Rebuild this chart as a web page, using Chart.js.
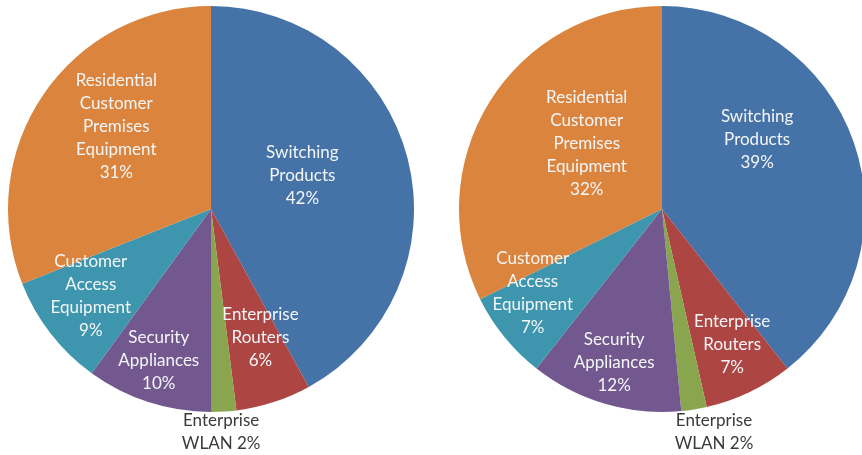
<!DOCTYPE html>
<html>
<head>
<meta charset="utf-8">
<script src="https://cdn.jsdelivr.net/npm/chart.js@4.4.1/dist/chart.umd.min.js"></script>
<style>
  html, body { margin: 0; padding: 0; background: #ffffff; }
  body { width: 862px; height: 455px; overflow: hidden; position: relative; }
  .pie { position: absolute; top: 6px; width: 406px; height: 449px; }
  #leftBox { left: 8px; }
  #rightBox { left: 459px; }
</style>
</head>
<body>
<div id="leftBox" class="pie"><canvas id="leftChart"></canvas></div>
<div id="rightBox" class="pie"><canvas id="rightChart"></canvas></div>

<script>
// segment names, clockwise from 12 o'clock
const segments = [
    ['Switching', 'Products'],
    ['Enterprise', 'Routers'],
    ['Enterprise', 'WLAN'],
    ['Security', 'Appliances'],
    ['Customer', 'Access', 'Equipment'],
    ['Residential', 'Customer', 'Premises', 'Equipment']
];

// market share, percent
const sharesLeft = [42, 6, 2, 10, 9, 31];
const sharesRight = [39, 7, 2, 12, 7, 32];

const sliceColors = ['#4572A7', '#AD4542', '#89A54E', '#72588F', '#3D96AE', '#DB843D'];

// label placement: [radius fraction, angle shift in degrees] per slice
const placeLeft = [[0.48, -6], [0.68, -3], [1.10, 1], [0.79, 1], [0.73, 2], [0.62, 7]];
const placeRight = [[0.58, -17], [0.75, -2], [1.13, -4], [0.79, 1], [0.76, 6], [0.49, 9]];

const LINE_H = 23;

// draws the multi-line labels (name + value) for every slice
const sliceLabels = {
    id: 'sliceLabels',
    afterDraw(chart, args, opts) {
        const ctx = chart.ctx;
        const meta = chart.getDatasetMeta(0);
        const values = chart.data.datasets[0].data;
        ctx.save();
        ctx.font = '17px Lato, "Open Sans", sans-serif';
        ctx.textAlign = 'center';
        ctx.textBaseline = 'middle';
        meta.data.forEach((arc, i) => {
            const p = arc.getProps(['x', 'y', 'startAngle', 'endAngle', 'outerRadius'], true);
            const [rf, shift] = opts.place[i];
            const mid = (p.startAngle + p.endAngle) / 2 + shift * Math.PI / 180;
            const cx = p.x + Math.cos(mid) * p.outerRadius * rf;
            const cy = p.y + Math.sin(mid) * p.outerRadius * rf;
            let lines = segments[i].slice();
            const pct = values[i] + '%';
            const outside = rf > 1;
            if (outside) {
                lines[lines.length - 1] += ' ' + pct;
            } else {
                lines.push(pct);
            }
            ctx.fillStyle = outside ? '#3a3a3a' : '#f4f6f8';
            const top = cy - (lines.length - 1) * LINE_H / 2;
            lines.forEach((t, k) => ctx.fillText(t, cx, top + k * LINE_H));
        });
        ctx.restore();
    }
};

function makePie(id, shares, place) {
    const ctx = document.getElementById(id).getContext('2d');
    return new Chart(ctx, {
        type: 'pie',
        data: {
            labels: segments.map(s => s.join(' ')),
            datasets: [{
                data: shares,
                backgroundColor: sliceColors,
                borderWidth: 0
            }]
        },
        options: {
            responsive: true,
            maintainAspectRatio: false,
            animation: false,
            layout: { padding: { bottom: 43 } },
            plugins: {
                legend: { display: false },
                tooltip: { enabled: false },
                sliceLabels: { place: place }
            }
        },
        plugins: [sliceLabels]
    });
}

makePie('leftChart', sharesLeft, placeLeft);
makePie('rightChart', sharesRight, placeRight);
</script>
</body>
</html>
